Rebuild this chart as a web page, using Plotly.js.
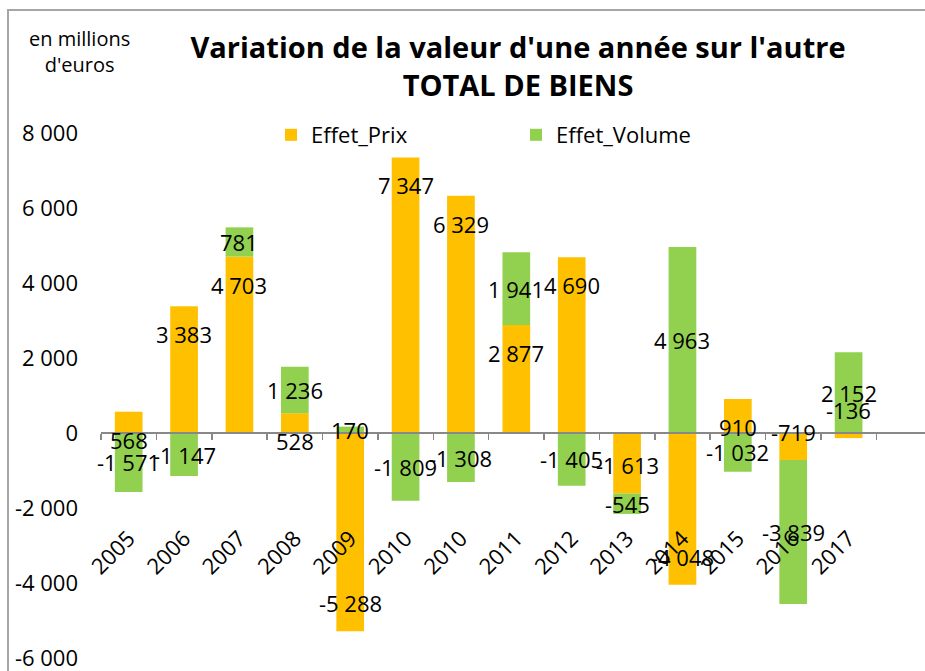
<!DOCTYPE html>
<html>
<head>
<meta charset="utf-8">
<script src="https://cdn.plot.ly/plotly-3.0.1.min.js"></script>
<style>
html,body{margin:0;padding:0;overflow:hidden;background:#fff;}
#chart{position:absolute;left:0;top:0;width:925px;height:671px;}
#frame{position:absolute;left:7px;top:9px;width:1200px;height:1200px;border-left:2px solid #a6a6a6;border-top:2px solid #a6a6a6;pointer-events:none;}
</style>
</head>
<body>
<div id="chart"></div>
<div id="frame"></div>
<script>
const years = ["2005","2006","2007","2008","2009","2010","2010","2011","2012","2013","2014","2015","2016","2017"];
const effetPrix = [568, 3383, 4703, 528, -5288, 7347, 6329, 2877, 4690, -1613, -4048, 910, -719, -136];
const effetVolume = [-1571, -1147, 781, 1236, 170, -1809, -1308, 1941, -1405, -545, 4963, -1032, -3839, 2152];
const yTicks = [-6000, -4000, -2000, 0, 2000, 4000, 6000, 8000];

const FONT = "'Open Sans', 'Noto Sans', sans-serif";
const idx = years.map((_, i) => i);
const fmt = v => {
  const s = Math.abs(v).toString().replace(/\B(?=(\d{3})+(?!\d))/g, " ");
  return (v < 0 ? "-" : "") + s;
};

const traces = [
  {type: "bar", name: "Effet_Prix", x: idx, y: effetPrix, marker: {color: "#FFC000"}, hoverinfo: "skip"},
  {type: "bar", name: "Effet_Volume", x: idx, y: effetVolume, marker: {color: "#92D050"}, hoverinfo: "skip"},
  {type: "scatter", mode: "none", x: idx, y: idx.map(() => 0), xaxis: "x2", showlegend: false, hoverinfo: "skip"}
];

const annotations = [];
effetPrix.forEach((v, i) => {
  annotations.push({x: i, y: v, xref: "x", yref: "y", text: fmt(v), showarrow: false,
    yshift: v >= 0 ? -28 : 28, xanchor: "center", yanchor: "middle",
    font: {family: FONT, size: 22, color: "#000"}});
});
effetVolume.forEach((v, i) => {
  const p = effetPrix[i];
  const base = (Math.sign(p) === Math.sign(v)) ? p : 0;
  annotations.push({x: i, y: base + v / 2, xref: "x", yref: "y", text: fmt(v), showarrow: false,
    xanchor: "center", yanchor: "middle",
    font: {family: FONT, size: 22, color: "#000"}});
});
annotations.push({x: -0.0255, xref: "paper", y: 1.156, yref: "paper", text: "en millions<br>d'euros",
  showarrow: false, xanchor: "center", yanchor: "middle", font: {family: FONT, size: 20, color: "#000"}});

const boundaries = years.map((_, i) => i - 0.5).concat([years.length - 0.5]);
const yMin = yTicks[0], yMax = yTicks[yTicks.length - 1];

const layout = {
  width: 925, height: 671,
  margin: {l: 101, r: 0, t: 133, b: 13, autoexpand: false},
  paper_bgcolor: "#fff", plot_bgcolor: "#fff",
  barmode: "relative", bargap: 0.5,
  font: {family: FONT, size: 22, color: "#000"},
  title: {text: "<b>Variation de la valeur d'une année sur l'autre<br>TOTAL DE BIENS</b>",
    x: 518 / 925, xanchor: "center", xref: "container",
    y: 1 - 58 / 671, yanchor: "middle", yref: "container",
    font: {family: FONT, size: 29, color: "#000"}},
  xaxis: {range: [-0.5, 14.38], anchor: "free", position: (0 - yMin) / (yMax - yMin),
    showline: true, linecolor: "#888888", linewidth: 2,
    tickmode: "array", tickvals: boundaries, ticks: "outside", ticklen: 6, tickwidth: 1.5, tickcolor: "#888888",
    showticklabels: false, showgrid: false, zeroline: false, fixedrange: true},
  xaxis2: {overlaying: "x", matches: "x", anchor: "free", position: 0.262,
    tickmode: "array", tickvals: idx, ticktext: years, tickangle: -45, ticks: "",
    showline: false, showgrid: false, zeroline: false, ticklabeloverflow: "allow",
    tickfont: {family: FONT, size: 22, color: "#000"}},
  yaxis: {range: [yMin, yMax], tickmode: "array", tickvals: yTicks, ticktext: yTicks.map(fmt),
    showline: false, showgrid: false, zeroline: false, ticks: "", ticklabelstandoff: 22,
    ticklabeloverflow: "allow",
    tickfont: {family: FONT, size: 22, color: "#000"}, fixedrange: true},
  legend: {orientation: "h", x: 271 / 925, xref: "container", xanchor: "left",
    y: 1 - 135 / 671, yref: "container", yanchor: "middle",
    entrywidth: 200, entrywidthmode: "pixels",
    font: {family: FONT, size: 22, color: "#000"}, bgcolor: "rgba(0,0,0,0)"},
  annotations: annotations,
  showlegend: true
};

Plotly.newPlot("chart", traces, layout, {displayModeBar: false, staticPlot: true});
</script>
</body>
</html>
